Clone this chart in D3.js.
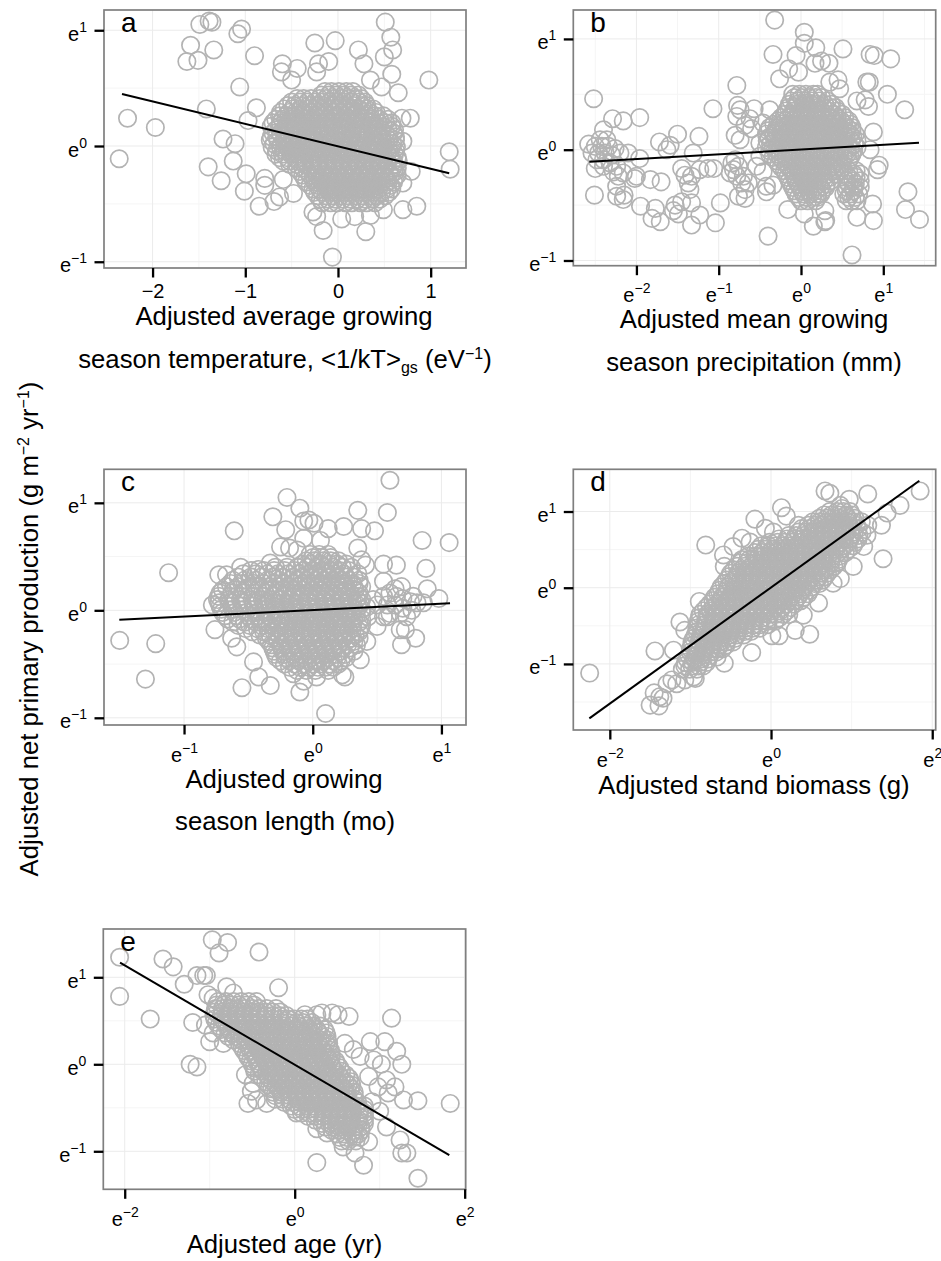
<!DOCTYPE html>
<html>
<head>
<meta charset="utf-8">
<script src="https://cdn.jsdelivr.net/npm/d3@7"></script>
<style>
    body { margin: 0; background: #fff; }
    svg { display: block; font-family: "Liberation Sans", Arial, sans-serif; }
</style>
</head>
<body>
<div id="chart"></div>
<script>
// points, in log units of the axes.
// outliers are read one by one, the solid middle of each cloud can't be read so it is estimated as rows: [y, x, x, x...]
var outliersA = [[-2.36,-.11],[-2.27,.24],[-1.97,.16],[-1.49,1.05],[-1.39,1.08],[-1.36,1.07],[-1.59,.87],[-1.63,.73],[-1.51,.74],[-1.34,.83],[-1.04,1.01],[-1.08,.97],[-.9,.78],[-1.06,.51],[-1.42,.32],[-.97,.22],[-.88,.33],[-1.24,.06],[-1.11,.02],[-1.13,-.13],[-1.4,-.18],[-1.26,-.3],[-.99,-.24],[-1.01,-.39],[-.79,-.28],[-.79,-.34],[-.85,-.52],[-.69,-.48],[-.63,-.44],[-.59,-.29],[-.48,-.41],[-.6,.71],[-.61,.64],[-.44,.67],[-.5,.57],[-.25,.89],[-.03,.91],[-.21,.71],[-.1,.73],[-.23,.64],[.22,.83],[.28,.71],[.51,1.07],[.57,.94],[.59,.83],[.5,.77],[.58,.62],[.35,.57],[.47,.51],[.65,.46],[.98,.57],[1.2,-.05],[1.21,-.2],[.79,-.22],[.85,-.52],[.7,-.55],[.7,-.32],[.78,.24],[.69,.24],[.7,.04],[-.06,-.96],[.3,-.74],[-.16,-.73],[-.27,-.57],[-.23,-.61],[.04,-.63],[.18,-.61],[.35,-.6],[.49,-.55]];
var coreA = [
    [.47,-.14,-.07,.01,.09,.16],
    [.41,-.44,-.37,-.29,-.2,-.13,-.05,.04,.11,.19,.25],
    [.35,-.54,-.47,-.38,-.31,-.22,-.15,-.06,.01,.1,.17,.26,.31],
    [.29,-.62,-.53,-.46,-.37,-.3,-.21,-.14,-.05,.03,.12,.19,.28,.34,.41],
    [.23,-.67,-.6,-.51,-.44,-.35,-.27,-.2,-.11,-.04,.05,.13,.2,.29,.36,.45,.54],
    [.17,-.72,-.63,-.56,-.47,-.4,-.31,-.24,-.15,-.07,.01,.08,.17,.24,.33,.4,.49,.58],
    [.11,-.7,-.62,-.53,-.45,-.38,-.29,-.21,-.14,-.05,.03,.1,.19,.27,.34,.43,.51,.6],
    [.05,-.73,-.65,-.58,-.49,-.42,-.33,-.26,-.17,-.09,-.02,.07,.14,.23,.3,.39,.47,.55,.62],
    [-.01,-.71,-.62,-.55,-.46,-.39,-.3,-.22,-.15,-.06,.02,.09,.18,.25,.34,.42,.49,.58,.63],
    [-.07,-.67,-.6,-.51,-.44,-.35,-.28,-.19,-.12,-.03,.05,.13,.2,.29,.36,.45,.53,.61],
    [-.13,-.59,-.52,-.43,-.36,-.27,-.2,-.11,-.03,.04,.13,.2,.29,.37,.44,.53,.6,.65],
    [-.19,-.45,-.38,-.29,-.22,-.13,-.05,.02,.11,.18,.27,.34,.43,.5,.59,.64],
    [-.25,-.38,-.3,-.23,-.14,-.07,.02,.09,.18,.25,.34,.41,.5,.57,.64],
    [-.31,-.34,-.25,-.18,-.09,-.01,.06,.15,.22,.31,.38,.47,.54,.6],
    [-.37,-.27,-.2,-.11,-.04,.05,.12,.21,.28,.37,.44,.53,.58],
    [-.43,-.22,-.13,-.06,.03,.1,.19,.26,.35,.42,.51],
    [-.49,-.17,-.08,-.01,.08,.15,.24,.31,.4],
    [.44,-.18,-.1,-.02,.06,.14,.22],
    [.38,-.5,-.41,-.33,-.25,-.17,-.09,-.01,.07,.15,.23,.29],
    [.32,-.58,-.49,-.41,-.33,-.25,-.17,-.09,-.01,.08,.15,.23,.31,.38],
    [.26,-.63,-.56,-.48,-.4,-.32,-.24,-.16,-.08,0,.08,.16,.24,.32,.4,.49],
    [.2,-.7,-.62,-.54,-.46,-.37,-.29,-.21,-.13,-.05,.03,.11,.19,.27,.35,.43,.51,.58],
    [.14,-.67,-.59,-.51,-.43,-.35,-.27,-.19,-.1,-.02,.06,.14,.22,.3,.38,.46,.54,.61],
    [.08,-.72,-.66,-.57,-.49,-.41,-.33,-.25,-.17,-.09,-.01,.07,.15,.23,.31,.39,.47,.55,.62],
    [.02,-.69,-.61,-.53,-.45,-.37,-.29,-.21,-.13,-.05,.03,.11,.19,.27,.35,.43,.51,.59],
    [-.04,-.66,-.58,-.5,-.42,-.34,-.25,-.17,-.09,-.01,.07,.15,.23,.31,.39,.47,.55,.62],
    [-.1,-.63,-.55,-.47,-.39,-.31,-.23,-.15,-.07,.01,.09,.17,.25,.33,.41,.49,.57,.64],
    [-.16,-.52,-.44,-.36,-.28,-.2,-.12,-.04,.05,.13,.21,.29,.37,.45,.53,.61],
    [-.22,-.41,-.33,-.25,-.17,-.09,-.01,.07,.15,.23,.31,.39,.47,.55,.62],
    [-.28,-.36,-.27,-.19,-.11,-.03,.05,.13,.21,.29,.37,.45,.53,.61],
    [-.34,-.3,-.22,-.14,-.06,.02,.1,.18,.26,.34,.42,.5,.57],
    [-.4,-.25,-.17,-.09,-.01,.07,.15,.23,.31,.39,.47,.55],
    [-.46,-.19,-.11,-.03,.05,.13,.21,.29,.37,.45]
];
var lineA = [[-2.33,.45],[1.2,-.236]];

var outliersB = [[-.32,1.17],[.04,1.06],[.04,.96],[.18,.92],[-.34,.86],[-.06,.85],[.51,.91],[.84,.86],[.89,.85],[1.09,.82],[.17,.78],[.25,.8],[.34,.78],[-.15,.73],[-.03,.7],[-.26,.64],[.45,.63],[.35,.61],[.8,.61],[.83,.61],[.47,.55],[1.05,.5],[.68,.44],[.78,.45],[.82,.39],[1.26,.36],[.88,.16],[.84,0],[.95,-.14],[.93,-.18],[1.3,-.38],[1.27,-.54],[1.44,-.63],[.87,-.49],[.88,-.64],[.68,-.61],[.62,-.95],[-.4,-.78],[-.16,-.54],[.04,-.58],[.15,-.69],[.29,-.65],[.3,-.64],[.29,-.55],[-.78,.58],[-1.07,.37],[-.77,.4],[-.74,.36],[-.78,.3],[-.57,.37],[-.62,.28],[-.68,.22],[-.6,.19],[-.38,.36],[-.46,.24],[-.8,.13],[-.74,.09],[-.5,.06],[-2.52,.46],[-2.29,.28],[-2.16,.26],[-1.96,.29],[-2.4,.18],[-2.58,.05],[-2.44,.09],[-2.36,.09],[-2.5,.03],[-2.42,.03],[-2.34,.03],[-2.26,.01],[-2.54,-.03],[-2.46,-.03],[-2.38,-.03],[-2.3,-.05],[-2.2,-.03],[-2.48,-.09],[-2.4,-.09],[-2.32,-.12],[-2.5,-.17],[-2.4,-.15],[-2.24,-.15],[-2.1,-.03],[-1.96,-.08],[-2,-.24],[-2.16,-.21],[-2.28,-.2],[-2.22,-.24],[-2.51,-.41],[-2.24,-.33],[-2.24,-.42],[-2.16,-.45],[-2.15,-.41],[-1.95,-.51],[-1.83,-.27],[-1.7,-.29],[-2.02,-.26],[-1.72,.07],[-1.63,0],[-1.59,.04],[-1.5,.14],[-1.31,-.03],[-1.24,.12],[-1.45,-.17],[-1.41,-.23],[-1.37,-.3],[-1.35,-.36],[-1.33,-.24],[-1.23,-.18],[-1.13,-.17],[-1.06,-.17],[-1.77,-.53],[-1.81,-.62],[-1.71,-.65],[-1.53,-.5],[-1.55,-.55],[-1.49,-.58],[-1.45,-.47],[-1.33,-.48],[-1.23,-.59],[-1.33,-.68],[-1.04,-.66],[-.98,-.48],[-.84,-.12],[-.82,-.18],[-.86,-.21],[-.76,-.15],[-.78,-.24],[-.7,-.24],[-.72,-.3],[-.64,-.3],[-.68,-.36],[-.76,-.42],[-.68,-.44],[-.8,-.09],[-.54,-.15],[-.46,-.2],[-.42,-.33],[-.42,-.38],[-.34,-.32],[-.5,-.06]];
var coreB = [
    [.5,-.1,-.02,.06,.15,.2],
    [.44,-.12,-.04,.05,.13,.22,.32],
    [.38,-.15,-.07,.02,.1,.19,.27,.36,.42],
    [.32,-.2,-.11,-.03,.06,.14,.23,.31,.4,.5],
    [.26,-.28,-.19,-.1,-.02,.07,.15,.24,.32,.41,.49,.58],
    [.2,-.38,-.29,-.21,-.12,-.04,.05,.13,.22,.3,.39,.47,.56,.62],
    [.14,-.42,-.33,-.25,-.16,-.08,.01,.09,.18,.26,.35,.43,.52,.6,.66],
    [.08,-.41,-.32,-.24,-.15,-.07,.02,.1,.19,.27,.36,.44,.53,.61,.68],
    [.02,-.42,-.34,-.25,-.17,-.08,0,.09,.17,.26,.34,.43,.51,.6,.68],
    [-.04,-.38,-.29,-.21,-.12,-.04,.05,.13,.22,.3,.39,.47,.56,.62],
    [-.1,-.3,-.22,-.13,-.05,.04,.12,.21,.29,.38,.46,.58],
    [-.16,-.24,-.15,-.07,.02,.1,.19,.27,.36,.44,.5],
    [-.22,-.18,-.09,-.01,.08,.16,.25,.33,.42,.55,.64,.72],
    [-.28,-.14,-.06,.03,.11,.2,.28,.36,.55,.63,.72],
    [-.34,-.1,-.01,.07,.16,.24,.3,.56,.64,.72],
    [-.4,-.06,.03,.11,.2,.24,.52,.6,.7],
    [-.46,0,.08,.18,.55,.62,.68],
    [.47,-.08,.01,.1,.18,.25],
    [.41,-.14,-.05,.03,.12,.2,.29,.37],
    [.35,-.18,-.09,0,.08,.17,.25,.34,.44],
    [.29,-.24,-.15,-.07,.02,.1,.19,.27,.36,.44,.53],
    [.23,-.33,-.24,-.16,-.07,.01,.1,.18,.27,.35,.44,.52,.6],
    [.17,-.4,-.31,-.23,-.14,-.06,.03,.11,.2,.28,.37,.45,.54,.62],
    [.11,-.39,-.3,-.22,-.13,-.05,.04,.12,.21,.29,.38,.46,.55,.63],
    [.05,-.37,-.28,-.2,-.11,-.03,.06,.14,.23,.31,.4,.48,.57,.65],
    [-.01,-.38,-.29,-.21,-.12,-.04,.05,.13,.22,.3,.39,.47,.56,.64],
    [-.07,-.34,-.25,-.17,-.08,0,.09,.17,.26,.34,.43,.51,.6],
    [-.13,-.27,-.18,-.1,-.01,.07,.16,.24,.33,.41,.5],
    [-.19,-.2,-.11,-.03,.06,.14,.23,.31,.4,.47,.58,.67],
    [-.25,-.16,-.07,.01,.1,.18,.27,.35,.58,.67],
    [-.31,-.12,-.03,.05,.14,.22,.31,.58,.66],
    [-.37,-.08,.01,.09,.18,.26,.55,.64],
    [-.43,-.03,.06,.14,.2,.58,.66]
];
var lineB = [[-2.572,-.108],[1.434,.063]];

var outliersC = [[.6,1.21],[-.2,1.05],[-.1,.95],[-.31,.87],[-.07,.83],[-.03,.84],[.01,.81],[-.21,.75],[-.61,.74],[.12,.76],[.24,.78],[.35,.93],[.58,.91],[.38,.76],[.48,.74],[-.07,.67],[.06,.65],[.85,.65],[1.06,.63],[.35,.58],[-.25,.59],[-.18,.58],[-.12,.56],[-1.12,.35],[.55,.43],[.65,.42],[.41,.42],[.38,.47],[.88,.39],[.89,.2],[.55,.27],[.64,.2],[.69,.22],[.98,.11],[-.73,.33],[-.67,.33],[-.56,.4],[-.42,.38],[-.33,.44],[-.78,.05],[-.76,-.18],[-.63,-.26],[-.59,-.34],[-1.5,-.28],[-1.22,-.31],[-1.3,-.64],[-.55,-.72],[-.46,-.48],[-.42,-.62],[-.33,-.7],[-.15,-.59],[-.1,-.76],[-.07,-.66],[.03,-.62],[.1,-.96],[.23,-.6],[.25,-.62],[.37,-.46],[.42,-.29],[.69,-.32],[.8,-.26],[.72,-.18],[.68,-.18],[.5,-.15],[.58,-.06],[.55,.13],[.6,.16],[.65,.13],[.7,.11],[.76,.08],[.81,.07],[.86,.07],[.58,.05],[.64,.05],[.7,.02],[.77,0],[.5,.05],[.6,-.03],[.68,-.03],[.73,-.06],[.47,.1],[.42,.03],[.43,-.06],[.55,-.06],[.78,.13]];
var coreC = [
    [.52,-.02,.05,.12],
    [.46,-.05,.01,.08,.14,.2],
    [.4,-.29,-.2,-.12,-.04,.03,.1,.16,.23,.3],
    [.34,-.54,-.44,-.35,-.27,-.19,-.11,-.03,.04,.11,.17,.24,.35],
    [.28,-.62,-.53,-.44,-.35,-.26,-.18,-.11,-.05,.02,.08,.15,.21,.28,.36],
    [.22,-.67,-.58,-.49,-.41,-.33,-.25,-.18,-.12,-.05,.01,.07,.14,.2,.26,.32,.38],
    [.16,-.72,-.63,-.54,-.45,-.37,-.29,-.22,-.15,-.09,-.03,.04,.1,.16,.23,.29,.36],
    [.1,-.74,-.65,-.56,-.47,-.39,-.31,-.24,-.17,-.1,-.04,.03,.09,.15,.22,.28,.34,.38],
    [.04,-.72,-.63,-.55,-.46,-.38,-.3,-.23,-.16,-.09,-.03,.04,.1,.16,.23,.29,.36],
    [-.02,-.7,-.61,-.52,-.44,-.36,-.28,-.21,-.14,-.08,-.02,.05,.11,.17,.24,.3,.38],
    [-.08,-.66,-.57,-.48,-.4,-.32,-.25,-.18,-.12,-.06,.01,.07,.13,.2,.26,.32,.38],
    [-.14,-.58,-.49,-.4,-.33,-.26,-.19,-.13,-.07,0,.06,.12,.19,.25,.31,.38],
    [-.2,-.47,-.38,-.3,-.23,-.17,-.1,-.04,.03,.09,.15,.22,.28,.36],
    [-.26,-.36,-.28,-.21,-.15,-.08,-.02,.05,.11,.17,.24,.3,.36],
    [-.32,-.32,-.25,-.18,-.12,-.05,.01,.08,.14,.2,.27,.34],
    [-.38,-.3,-.23,-.16,-.1,-.03,.03,.1,.16,.22,.32],
    [-.44,-.28,-.21,-.14,-.07,-.01,.06,.12,.19,.26],
    [-.5,-.22,-.14,-.07,0,.06,.13,.2],
    [-.56,-.12,-.05,.02,.12],
    [.49,0,.07,.14],
    [.43,-.08,-.01,.06,.13,.19,.26],
    [.37,-.48,-.38,-.3,-.22,-.14,-.07,0,.07,.14,.21,.28],
    [.31,-.58,-.48,-.4,-.31,-.23,-.15,-.08,-.01,.06,.13,.19,.26,.32],
    [.25,-.64,-.55,-.46,-.38,-.3,-.22,-.15,-.08,-.02,.05,.11,.18,.24,.31,.36],
    [.19,-.7,-.61,-.52,-.43,-.35,-.27,-.2,-.13,-.07,0,.06,.13,.19,.26,.33],
    [.13,-.73,-.64,-.55,-.46,-.38,-.3,-.23,-.16,-.1,-.03,.03,.1,.16,.23,.29,.36],
    [.07,-.73,-.64,-.55,-.46,-.38,-.3,-.23,-.16,-.09,-.02,.05,.12,.18,.25,.31,.37],
    [.01,-.71,-.62,-.53,-.45,-.37,-.29,-.22,-.15,-.08,-.01,.06,.12,.19,.26,.32,.38],
    [-.05,-.68,-.59,-.5,-.42,-.34,-.26,-.19,-.12,-.05,.02,.08,.15,.21,.28,.34],
    [-.11,-.62,-.53,-.44,-.36,-.28,-.21,-.15,-.09,-.02,.04,.1,.17,.23,.3,.36],
    [-.17,-.52,-.43,-.35,-.28,-.21,-.15,-.08,-.02,.05,.11,.18,.24,.31,.37],
    [-.23,-.41,-.33,-.26,-.19,-.13,-.06,0,.07,.13,.2,.26,.33],
    [-.29,-.34,-.27,-.2,-.13,-.07,0,.06,.13,.19,.26,.32],
    [-.35,-.31,-.24,-.17,-.1,-.04,.03,.09,.16,.22,.29],
    [-.41,-.29,-.22,-.15,-.08,-.02,.05,.11,.18,.25],
    [-.47,-.25,-.18,-.11,-.04,.03,.09,.16,.22],
    [-.53,-.18,-.1,-.03,.04,.1,.16]
];
var lineC = [[-1.503,-.087],[1.067,.065]];

var outliersD = [[-2.25,-1.12],[-1.44,-.83],[-1.21,-.82],[-1.5,-1.54],[-1.39,-1.55],[-1.45,-1.38],[-1.34,-1.45],[-1.29,-1.26],[-1.23,-1.21],[-1.17,-1.26],[-1.07,-1.21],[-.94,-1.19],[-1.38,-1.43],[-1.13,-.45],[-1.07,-.56],[-.81,.56],[-.89,-.18],[-.59,.43],[-.58,.28],[-.47,.54],[-.36,.65],[-.26,.6],[-.2,.9],[-.07,.78],[.03,.73],[.13,1.05],[.19,.94],[.34,.82],[.67,1.27],[.73,1.24],[1.2,1.23],[.97,1.16],[.86,1.08],[.88,1.04],[1.85,1.27],[1.6,1.08],[1.44,.98],[1.37,.82],[1.39,.38],[1.15,.54],[1.19,.69],[1.02,.28],[.86,.12],[.77,.06],[.59,-.2],[.4,-.36],[.3,-.56],[.48,-.61],[.1,-.63],[.01,-.63],[-.24,-.85],[-.58,-.99],[-.67,-.91],[-.96,-1.17]];
var coreD = [
    [1,.73,.82,.9,.98],
    [.91,.6,.69,.77,.86,.95,1.04],
    [.82,.46,.55,.63,.72,.8,.89,.97,1.06,1.2],
    [.73,.34,.43,.52,.6,.69,.77,.86,.94,1.03,1.13],
    [.64,.1,.2,.3,.38,.47,.55,.64,.72,.81,.89,.98,1.08],
    [.55,-.12,-.03,.06,.15,.23,.32,.4,.49,.57,.66,.74,.83,.91,1.02],
    [.46,-.2,-.11,-.02,.06,.15,.23,.32,.4,.49,.57,.66,.74,.83,.92],
    [.37,-.36,-.27,-.18,-.1,-.01,.07,.16,.24,.33,.41,.5,.58,.67,.75,.84],
    [.28,-.42,-.33,-.25,-.16,-.08,.01,.09,.18,.26,.35,.43,.52,.6,.69,.78],
    [.19,-.5,-.41,-.32,-.24,-.15,-.07,.02,.1,.19,.27,.36,.44,.53,.62,.7],
    [.1,-.55,-.46,-.38,-.29,-.21,-.12,-.04,.05,.13,.22,.3,.39,.47,.56,.64],
    [.01,-.62,-.53,-.45,-.36,-.28,-.19,-.11,-.02,.06,.15,.23,.32,.4,.5],
    [-.08,-.66,-.57,-.49,-.4,-.32,-.23,-.15,-.06,.02,.11,.19,.28,.36,.46],
    [-.17,-.72,-.63,-.55,-.46,-.38,-.29,-.21,-.12,-.04,.05,.13,.22,.3,.37],
    [-.26,-.8,-.71,-.62,-.54,-.45,-.37,-.28,-.2,-.11,-.03,.06,.14,.24],
    [-.35,-.88,-.79,-.7,-.62,-.53,-.45,-.36,-.28,-.19,-.11,-.02,.06,.15,.22],
    [-.44,-.9,-.81,-.72,-.64,-.55,-.47,-.38,-.3,-.21,-.13,-.04,.05],
    [-.53,-.92,-.83,-.74,-.66,-.57,-.49,-.4,-.32,-.23,-.14],
    [-.62,-.94,-.85,-.77,-.68,-.6,-.51,-.43,-.34],
    [-.71,-.98,-.89,-.81,-.72,-.64,-.55,-.47],
    [-.8,-1,-.91,-.83,-.74,-.66,-.6],
    [-.89,-1.02,-.93,-.85,-.76],
    [-.98,-1.06,-.97,-.88,-.8],
    [-1.07,-1.1,-1.01,-.92],
    [.955,.66,.75,.84,.93,1],
    [.865,.52,.6,.69,.78,.86,.95,1.03,1.12],
    [.775,.38,.47,.56,.65,.73,.82,.91,.99,1.08],
    [.685,.22,.31,.4,.48,.57,.66,.75,.83,.92,1,1.09],
    [.595,-.02,.08,.17,.26,.35,.44,.52,.61,.7,.78,.87,.96,1.04],
    [.505,-.16,-.07,.02,.1,.19,.28,.36,.45,.53,.62,.7,.79,.88,.96],
    [.415,-.28,-.19,-.1,-.02,.07,.16,.24,.33,.41,.5,.58,.67,.76,.85],
    [.325,-.38,-.3,-.21,-.12,-.04,.05,.13,.22,.31,.39,.48,.56,.65,.74,.82],
    [.235,-.46,-.37,-.28,-.2,-.11,-.02,.06,.15,.23,.32,.41,.49,.58,.66,.74],
    [.145,-.52,-.43,-.34,-.26,-.17,-.09,0,.08,.17,.26,.34,.43,.51,.6,.67],
    [.055,-.58,-.5,-.41,-.32,-.24,-.15,-.06,.02,.11,.19,.28,.37,.45,.54,.6],
    [-.035,-.64,-.55,-.47,-.38,-.3,-.21,-.12,-.04,.05,.13,.22,.31,.39,.48],
    [-.125,-.7,-.61,-.52,-.44,-.35,-.27,-.18,-.09,-.01,.08,.16,.25,.33,.41],
    [-.215,-.76,-.67,-.58,-.5,-.41,-.33,-.24,-.15,-.07,.02,.1,.19,.29],
    [-.305,-.84,-.75,-.66,-.58,-.49,-.41,-.32,-.23,-.15,-.06,.02,.11,.19],
    [-.395,-.89,-.8,-.71,-.63,-.54,-.46,-.37,-.28,-.2,-.11,-.03,.1],
    [-.485,-.9,-.82,-.73,-.65,-.56,-.48,-.39,-.31,-.22,-.14,-.04],
    [-.575,-.92,-.84,-.75,-.67,-.58,-.5,-.41,-.33,-.25],
    [-.665,-.96,-.87,-.79,-.7,-.62,-.53,-.45],
    [-.755,-.98,-.9,-.81,-.73,-.64,-.56],
    [-.845,-1,-.92,-.83,-.75,-.68],
    [-.935,-1.04,-.95,-.87,-.78],
    [-1.025,-1.07,-.98,-.9,-.84]
];
var lineD = [[-2.254,-1.714],[1.84,1.404]];

var outliersE = [[-2.06,1.23],[-2.06,.78],[-1.7,.52],[-1.55,1.21],[-1.43,1.12],[-1.3,.92],[-1.15,1.02],[-1.07,1.02],[-1.04,1.02],[-.97,1.43],[-.79,1.4],[-.89,1.28],[-.42,1.29],[-.19,.88],[-.8,.89],[-1.02,.8],[-.96,.76],[-.72,.82],[-1.2,.48],[-1.05,.45],[-1,.26],[-.84,.24],[-.96,.36],[-1.23,0],[-1.15,-.03],[1.14,.53],[.12,.57],[.26,.57],[.32,.59],[.44,.59],[.51,.57],[.64,.55],[.59,.24],[.69,.17],[.89,.26],[1.06,.26],[1.2,.15],[1.26,0],[.93,.05],[1.02,0],[1.08,-.18],[1.18,-.26],[1.28,-.41],[1.45,-.42],[1.83,-.45],[.77,.09],[.87,-.14],[.98,-.26],[1.1,-.33],[.91,-.43],[1,-.54],[1.08,-.72],[1.24,-.87],[1.26,-1.02],[1.32,-1.02],[1.45,-1.31],[.81,-1.16],[.26,-1.13],[.71,-1.02],[.57,-.95],[.87,-.89],[-.58,-.12],[-.49,-.22],[-.55,-.45],[-.45,-.41],[-.33,-.45],[-.51,-.31],[.02,-.56],[.26,-.74],[.38,-.79]];
var coreE = [
    [.72,-.9,-.81,-.72,-.63,-.54,-.45],
    [.64,-.93,-.85,-.76,-.68,-.59,-.5,-.42,-.33,-.22],
    [.56,-.95,-.86,-.78,-.69,-.6,-.52,-.43,-.35,-.26,-.18,-.1],
    [.48,-.92,-.83,-.75,-.66,-.58,-.49,-.41,-.32,-.24,-.15,-.07,.02,.1,.2],
    [.4,-.86,-.78,-.69,-.61,-.52,-.44,-.35,-.27,-.18,-.1,-.01,.07,.16,.26,.35],
    [.32,-.78,-.7,-.61,-.53,-.44,-.36,-.27,-.19,-.1,-.02,.07,.15,.24,.32,.38],
    [.24,-.65,-.57,-.48,-.4,-.31,-.23,-.14,-.06,.03,.11,.2,.28,.37,.4],
    [.16,-.6,-.52,-.43,-.35,-.26,-.18,-.09,-.01,.08,.16,.25,.33,.42],
    [.08,-.55,-.46,-.38,-.29,-.21,-.12,-.04,.05,.13,.22,.3,.39,.43],
    [0,-.5,-.42,-.33,-.25,-.16,-.08,.01,.09,.18,.26,.35,.43,.5],
    [-.08,-.47,-.38,-.3,-.21,-.13,-.04,.04,.13,.21,.3,.38,.47,.55],
    [-.16,-.38,-.3,-.21,-.13,-.04,.04,.13,.21,.3,.38,.47,.55,.64],
    [-.24,-.31,-.22,-.14,-.05,.03,.12,.2,.29,.37,.46,.54,.63,.67],
    [-.32,-.25,-.16,-.08,.01,.09,.18,.26,.35,.43,.52,.6,.7],
    [-.4,-.23,-.14,-.06,.03,.11,.2,.28,.37,.45,.54,.62,.7],
    [-.48,-.04,.05,.14,.22,.31,.39,.48,.56,.65,.73,.82],
    [-.56,.08,.17,.25,.34,.42,.51,.59,.68,.76,.82],
    [-.64,.24,.33,.41,.5,.58,.67,.75,.82],
    [-.72,.36,.45,.53,.62,.7,.78],
    [-.8,.5,.58,.67,.75],
    [-.88,.55,.63,.72],
    [.68,-.92,-.83,-.74,-.66,-.57,-.48],
    [.6,-.94,-.85,-.77,-.68,-.6,-.51,-.43,-.34,-.26,-.17],
    [.52,-.94,-.85,-.77,-.68,-.6,-.51,-.43,-.34,-.26,-.17,-.08,0,.08,.15],
    [.44,-.89,-.8,-.72,-.63,-.55,-.46,-.38,-.29,-.21,-.12,-.04,.05,.13,.22,.3],
    [.36,-.82,-.74,-.65,-.57,-.48,-.4,-.31,-.23,-.14,-.06,.03,.11,.2,.28,.37],
    [.28,-.72,-.63,-.55,-.46,-.38,-.29,-.21,-.12,-.04,.05,.13,.22,.3,.38],
    [.2,-.62,-.54,-.45,-.37,-.28,-.2,-.11,-.03,.06,.14,.23,.31,.4],
    [.12,-.57,-.49,-.4,-.32,-.23,-.15,-.06,.02,.11,.19,.28,.36,.43],
    [.04,-.52,-.44,-.35,-.27,-.18,-.1,-.01,.07,.16,.24,.33,.41,.48],
    [-.04,-.48,-.4,-.31,-.23,-.14,-.06,.03,.11,.2,.28,.37,.45,.53],
    [-.12,-.42,-.33,-.25,-.16,-.08,.01,.09,.18,.26,.35,.43,.52,.6],
    [-.2,-.34,-.26,-.17,-.09,0,.08,.17,.25,.34,.42,.51,.59,.66],
    [-.28,-.27,-.19,-.1,-.02,.07,.15,.24,.32,.41,.49,.58,.66],
    [-.36,-.23,-.14,-.06,.03,.11,.2,.28,.37,.45,.54,.62,.7],
    [-.44,-.12,-.03,.06,.14,.23,.31,.4,.48,.57,.65,.74],
    [-.52,0,.09,.17,.26,.34,.43,.51,.6,.68,.77,.82],
    [-.6,.16,.25,.33,.42,.5,.59,.67,.76,.82],
    [-.68,.32,.41,.49,.58,.66,.75,.82],
    [-.76,.44,.52,.61,.69,.78],
    [-.84,.53,.61,.7,.77]
];
var lineE = [[-2.055,1.168],[1.819,-1.043]];

// the ticks, labelled e^n except panel a's x axis
var xTicksA = [-2, -1, 0, 1], xMinorA = [-1.5, -.5, .5];
var xTicksB = [-2, -1, 0, 1], xMinorB = [-2.5, -1.5, -.5, .5, 1.5];
var xTicksC = [-1, 0, 1], xMinorC = [-.5, .5];
var xTicksD = [-2, 0, 2], xMinorD = [-1, 1];
var xTicksE = [-2, 0, 2], xMinorE = [-1, 1];
var yTicks = [-1, 0, 1], yMinor = [-.5, .5];
var yMinorD = [-1.5, -.5, .5];

var width = 941, height = 1261;
var svg = d3.select("#chart").append("svg")
    .attr("width", width)
    .attr("height", height);

function expand_rows(rows) {
    var pts = [];
    rows.forEach(function (row) {
        for (var i = 1; i < row.length; i++) pts.push([row[i], row[0]]);
    });
    return pts;
}

function exp_label(text, d) {
    text.text(null);
    text.append("tspan").attr("font-size", 20).text("e");
    text.append("tspan")
        .attr("font-size", 14)
        .attr("dy", -9)
        .text(String(d).replace("-", "\u2212"));
}

function draw_panel(p) {
    var w = p.right - p.left, h = p.bottom - p.top;
    var x = d3.scaleLinear().domain(p.xDomain).range([0, w]);
    var y = d3.scaleLinear().domain(p.yDomain).range([h, 0]);
    var g = svg.append("g").attr("transform", "translate(" + p.left + "," + p.top + ")");

    // grid first, minor under major
    g.selectAll(".xminor").data(p.xMinor).enter().append("line")
        .attr("x1", d => x(d)).attr("x2", d => x(d)).attr("y1", 0).attr("y2", h)
        .attr("stroke", "#f5f5f5").attr("stroke-width", 1);
    g.selectAll(".yminor").data(p.yMinor).enter().append("line")
        .attr("y1", d => y(d)).attr("y2", d => y(d)).attr("x1", 0).attr("x2", w)
        .attr("stroke", "#f5f5f5").attr("stroke-width", 1);
    g.selectAll(".xmajor").data(p.xTicks).enter().append("line")
        .attr("x1", d => x(d)).attr("x2", d => x(d)).attr("y1", 0).attr("y2", h)
        .attr("stroke", "#ebebeb").attr("stroke-width", 1);
    g.selectAll(".ymajor").data(yTicks).enter().append("line")
        .attr("y1", d => y(d)).attr("y2", d => y(d)).attr("x1", 0).attr("x2", w)
        .attr("stroke", "#ebebeb").attr("stroke-width", 1);

    g.selectAll("circle").data(p.points).enter().append("circle")
        .attr("cx", d => x(d[0]))
        .attr("cy", d => y(d[1]))
        .attr("r", 8.7)
        .attr("fill", "none")
        .attr("stroke", "#b3b3b3")
        .attr("stroke-width", 1.7);

    g.append("path")
        .attr("d", d3.line().x(d => x(d[0])).y(d => y(d[1]))(p.line))
        .attr("fill", "none")
        .attr("stroke", "#000")
        .attr("stroke-width", 2);

    g.append("rect")
        .attr("width", w).attr("height", h)
        .attr("fill", "none")
        .attr("stroke", "#7f7f7f")
        .attr("stroke-width", 1.7);

    // axes
    var xAxis = d3.axisBottom(x).tickValues(p.xTicks).tickSize(9.5).tickPadding(p.plainX ? 6.5 : 13);
    if (p.plainX) xAxis.tickFormat(d => String(d).replace("-", "\u2212"));
    var gx = g.append("g").attr("transform", "translate(0," + h + ")").call(xAxis);
    gx.select(".domain").remove();
    gx.selectAll(".tick line").attr("stroke", "#000").attr("stroke-width", 2.3);
    gx.selectAll("text").attr("font-size", 20).attr("fill", "#000").attr("font-family", "inherit");
    if (!p.plainX) gx.selectAll("text").each(function (d) { exp_label(d3.select(this), d); });

    var yAxis = d3.axisLeft(y).tickValues(yTicks).tickSize(9.5).tickPadding(7.5);
    var gy = g.append("g").call(yAxis);
    gy.select(".domain").remove();
    gy.selectAll(".tick line").attr("stroke", "#000").attr("stroke-width", 2.3);
    gy.selectAll("text").attr("fill", "#000").attr("font-family", "inherit")
        .attr("dy", 10)
        .each(function (d) { exp_label(d3.select(this), d); });

    // panel letter
    svg.append("text")
        .attr("x", p.left + 17).attr("y", p.top + 22)
        .attr("font-size", 28)
        .text(p.letter);
}

function axis_title(cx, baseline, str) {
    return svg.append("text")
        .attr("x", cx).attr("y", baseline)
        .attr("text-anchor", "middle")
        .attr("font-size", 25.7)
        .text(str);
}

draw_panel({letter: "a", left: 104, right: 466, top: 10, bottom: 268,
    xDomain: [-2.524, 1.381], yDomain: [-1.054, 1.175], plainX: true,
    xTicks: xTicksA, xMinor: xMinorA, yMinor: yMinor,
    points: outliersA.concat(expand_rows(coreA)), line: lineA});
draw_panel({letter: "b", left: 573.3, right: 935.7, top: 10, bottom: 265.7,
    xDomain: [-2.767, 1.637], yDomain: [-1.047, 1.261],
    xTicks: xTicksB, xMinor: xMinorB, yMinor: yMinor,
    points: outliersB.concat(expand_rows(coreB)), line: lineB});
draw_panel({letter: "c", left: 104, right: 466, top: 469.3, bottom: 725,
    xDomain: [-1.622, 1.191], yDomain: [-1.067, 1.312],
    xTicks: xTicksC, xMinor: xMinorC, yMinor: yMinor,
    points: outliersC.concat(expand_rows(coreC)), line: lineC});
draw_panel({letter: "d", left: 573.3, right: 935.7, top: 469.3, bottom: 730,
    xDomain: [-2.453, 2.043], yDomain: [-1.867, 1.554],
    xTicks: xTicksD, xMinor: xMinorD, yMinor: yMinorD,
    points: outliersD.concat(expand_rows(coreD)), line: lineD});
draw_panel({letter: "e", left: 103.3, right: 465.7, top: 929, bottom: 1189.3,
    xDomain: [-2.252, 2.012], yDomain: [-1.437, 1.555],
    xTicks: xTicksE, xMinor: xMinorE, yMinor: yMinor,
    points: outliersE.concat(expand_rows(coreE)), line: lineE});

axis_title(284, 325, "Adjusted average growing");
var t2 = axis_title(285, 368, "season temperature, <1/kT>");
t2.append("tspan").attr("font-size", 16).attr("dy", 5).text("gs");
t2.append("tspan").attr("dy", -5).text(" (eV");
t2.append("tspan").attr("font-size", 16).attr("dy", -9).text("\u22121");
t2.append("tspan").attr("dy", 9).text(")");
axis_title(754, 328, "Adjusted mean growing");
axis_title(754, 371, "season precipitation (mm)");
axis_title(284, 788, "Adjusted growing");
axis_title(285, 830, "season length (mo)");
axis_title(754, 794, "Adjusted stand biomass (g)");
axis_title(284.5, 1253, "Adjusted age (yr)");

var yTitle = svg.append("text")
    .attr("transform", "translate(38,629) rotate(-90)")
    .attr("text-anchor", "middle")
    .attr("font-size", 25.7)
    .text("Adjusted net primary production (g m");
yTitle.append("tspan").attr("font-size", 16).attr("dy", -9).text("\u22122");
yTitle.append("tspan").attr("dy", 9).text(" yr");
yTitle.append("tspan").attr("font-size", 16).attr("dy", -9).text("\u22121");
yTitle.append("tspan").attr("dy", 9).text(")");
</script>
</body>
</html>
